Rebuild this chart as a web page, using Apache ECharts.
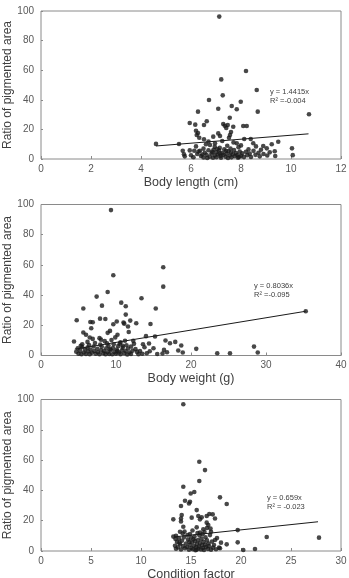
<!DOCTYPE html>
<html><head><meta charset="utf-8">
<script src="https://cdn.jsdelivr.net/npm/echarts@6/dist/echarts.min.js"></script>
<style>html,body{margin:0;padding:0;background:#fff}#c{width:349px;height:578px}</style>
</head><body><div id="c"></div>
<script>
// ---- Data ----
const yTitle = "Ratio of pigmented area";
const xTitles = ["Body length (cm)", "Body weight (g)", "Condition factor"];
const xRanges = [[0, 12, 2], [0, 40, 10], [0, 30, 5]];
const yRange = [0, 100, 20];
const eqTexts = [["y = 1.4415x", "R\u00b2 =-0.004"], ["y = 0.8036x", "R\u00b2 =-0.095"], ["y = 0.659x", "R\u00b2 = -0.023"]];

const lengthPoints = [
[7.13,96.2],[8.2,59.5],[7.21,53.8],[8.63,46.6],[7.27,43.0],[6.72,39.9],[7.99,38.7],[7.09,34.0],[7.63,35.8],[7.83,33.6],[8.67,32.0],[6.28,32.0],[10.72,30.2],[7.55,27.9],[6.63,25.5],[6.52,23.0],[5.95,24.3],[6.17,23.2],[7.29,23.6],[7.47,23.0],[7.69,21.8],[8.09,22.3],[8.23,22.3],[6.2,19.1],[7.41,21.0],[7.35,22.5],[6.23,16.2],[7.09,17.3],[7.56,16.2],[6.33,14.4],[6.52,13.3],[6.89,15.1],[7.16,15.5],[8.13,13.5],[8.39,13.5],[7.52,14.4],[6.28,17.5],[7.6,18.2],
[4.6,10.2],[5.52,10.1],[6.6,10.0],[6.76,9.5],[6.96,10.6],[7.83,10.6],[8.49,10.6],[9.23,10.0],[9.49,11.7],[10.04,7.2],[8.89,8.8],[9.03,7.2],[6.7,11.8],[7.25,12.2],[7.45,9.0],[7.7,11.2],[8.0,9.2],[6.95,8.2],[6.2,8.5],[7.15,7.5],[7.9,8.0],[8.6,8.5],[6.5,7.0],
[5.67,5.6],[5.72,3.2],[5.75,1.8],[5.95,5.8],[6.0,2.5],[6.13,5.6],[6.1,1.2],[6.25,3.4],[6.36,5.6],[6.4,2.0],[6.5,1.0],[6.55,4.2],[6.62,2.8],[6.7,5.9],[6.75,1.6],[6.82,3.8],[6.88,0.8],[6.9,6.2],[6.95,2.4],[7.0,4.6],[7.02,1.2],[7.08,3.0],[7.12,5.8],[7.18,2.0],[7.2,0.9],[7.25,4.0],[7.3,2.8],[7.33,6.5],[7.38,1.5],[7.42,3.6],[7.48,0.7],[7.5,5.2],[7.55,2.4],[7.6,4.4],[7.62,1.1],[7.68,3.2],[7.72,6.0],[7.75,1.9],[7.8,4.0],[7.85,2.7],[7.88,0.9],[7.95,5.0],[8.0,2.2],[8.05,3.8],[8.12,1.3],[8.2,4.9],[8.25,2.6],[8.35,3.6],[8.4,1.4],[8.5,5.5],[8.58,2.8],[8.7,4.2],[8.75,1.8],[8.9,3.4],[9.05,2.4],[9.15,4.5],[9.35,5.2],[9.37,2.0],[10.07,2.6],[6.85,4.8],[7.05,6.8],[7.4,5.5],[7.58,7.0],[7.15,3.8],[6.65,0.7],[7.92,1.4],[6.3,5.0],[6.45,3.0],[8.3,6.5],[8.8,6.2]
];
const weightPoints = [
[9.33,96.3],[16.3,58.4],[9.64,53.1],[16.3,45.6],[8.89,42.1],[7.42,39],[13.4,37.9],[8.13,33],[10.7,35],[11.3,32.6],[5.64,31.1],[15.3,31.1],[4.76,23.3],[6.58,22.2],[6.9,22],[7.87,24.4],[8.58,24.2],[10.1,22.5],[11.1,21.1],[11.3,27.1],[9.64,20.7],[11.9,23.1],[12.7,21.4],[14.6,20.9],[11.6,19.2],[6.7,18],[11.7,15.6],[5.64,15.2],[6.0,13.7],[8.89,15],[9.2,16.3],[10.2,13.7],[6.5,11.9],[6.9,11],[7.8,11.5],[14,12.8],[15.2,12.6],[35.3,29.3],[11.0,21.8],
[4.4,9.3],[12.3,9.7],[12.4,7.7],[16.6,9.9],[17.9,9.0],[17.2,8.1],[18.7,6.6],[14.4,7.9],[13.6,7.5],[15,4.8],[16.4,3.7],[16.8,2.2],[18.3,3.3],[18.9,2.0],[20.7,4.4],[23.5,1.5],[25.2,1.5],[28.4,5.9],[28.9,2.0],[16.2,1.3],[14.1,1.5],[13.2,3],[8.5,9.5],[9.4,10.2],[10.6,8.8],[11.2,9.8],[7.2,8.2],[5.5,7.5],[6.2,9.0],[9.9,12.0],[8.0,10.5],[10.9,6.5],[12.0,6.0],[13.8,5.5],[12.6,4.2],
[4.7,2.5],[4.9,4.8],[5.0,1.2],[5.2,3.2],[5.4,0.8],[5.5,5.5],[5.7,2.0],[5.9,3.8],[6.0,1.0],[6.2,5.2],[6.3,2.6],[6.5,0.9],[6.6,4.0],[6.8,1.8],[7.0,6.0],[7.1,3.0],[7.3,1.2],[7.5,4.5],[7.6,2.2],[7.8,0.8],[8.0,3.5],[8.1,5.8],[8.3,1.5],[8.4,3.0],[8.6,0.9],[8.7,4.8],[8.9,2.2],[9.0,6.5],[9.1,1.0],[9.3,3.6],[9.5,0.8],[9.6,5.0],[9.8,2.4],[10.0,1.2],[10.1,4.0],[10.3,6.2],[10.4,2.0],[10.6,0.9],[10.8,3.4],[10.9,5.2],[11.1,1.5],[11.3,3.0],[11.5,0.7],[11.6,4.6],[11.8,2.0],[12.0,1.0],[12.2,3.2],[9.7,7.5],[7.9,7.2],[6.4,7.0],[5.3,6.4],[11.4,6.8],[10.5,7.8],[8.8,8.0],[13.5,1.2],[13.0,0.8],[14.5,2.8],[15.5,1.0],[12.8,2.4],[9.2,4.2],[10.2,3.0]
];
const conditionPoints = [
[14.23,96.9],[15.83,58.9],[16.4,53.4],[15.83,46.2],[14.23,42.4],[15.33,38.9],[14.97,38],[14.4,33.2],[14.9,32.5],[14.8,31.4],[17.9,35.4],[18.57,31],[14,29.7],[15.57,27],[14.07,23.7],[14,21.5],[13.23,20.9],[15.07,22],[15.73,23.1],[16.07,22.2],[16.57,23.1],[16.83,24.4],[17.17,24.2],[17.4,21.5],[15.9,20.9],[16.57,18.7],[14.23,16],[15.57,15.6],[16.73,17.1],[16.23,14.3],[19.67,13.8],[13.9,12.7],[14.17,11.6],[13.5,10.1],[13.23,9.5],[14.9,11.2],[15.9,12.1],[17,12.7],[22.57,9.2],[27.8,8.8],[19.67,5.7],[17.4,7.3],[18.57,4.4],[17.8,2.2],[20.23,0.7],[21.4,1.3],[14.0,19.5],[16.6,15.2],
[13.4,3.5],[13.5,1.5],[13.6,6.0],[13.7,2.4],[13.8,8.2],[13.9,4.5],[14.0,1.0],[14.1,6.8],[14.2,3.2],[14.3,9.0],[14.4,1.8],[14.5,5.0],[14.6,2.6],[14.7,7.5],[14.8,0.9],[14.9,4.0],[15.0,8.8],[15.05,2.0],[15.1,5.8],[15.2,1.2],[15.3,3.5],[15.35,9.5],[15.4,6.5],[15.5,2.4],[15.55,0.8],[15.6,4.6],[15.7,7.2],[15.75,1.6],[15.8,3.0],[15.85,10.2],[15.9,5.2],[16.0,1.0],[16.05,8.0],[16.1,3.8],[16.2,2.0],[16.25,6.0],[16.3,0.7],[16.4,4.2],[16.45,9.0],[16.5,2.6],[16.6,7.0],[16.7,1.4],[16.75,5.0],[16.8,3.2],[16.9,10.5],[17.0,0.9],[17.1,6.2],[17.2,2.2],[17.3,4.0],[17.5,1.2],[17.6,8.5],[17.9,1.8],[18.0,5.5],[13.45,8.0],[14.35,12.8],[15.15,13.5],[15.65,11.8],[16.35,12.5],[16.95,14.8],[14.65,10.5],[13.85,5.5],[15.45,0.5],[14.85,6.0],[16.15,11.0],[15.25,7.8]
];
const lengthTrend = [[4.6, 8.8], [10.7, 17.0]];
const weightTrend = [[4.5, 4.2], [35.3, 29.3]];
const conditionTrend = [[13.3, 9.3], [27.7, 19.3]];

const pointSets = [lengthPoints, weightPoints, conditionPoints];
const trendSets = [lengthTrend, weightTrend, conditionTrend];

// ---- Layout ----
const grids = [
  {left: 41, top: 11, width: 300, height: 148},
  {left: 41, top: 204.5, width: 300, height: 151},
  {left: 41, top: 399.5, width: 300, height: 151.5}
];
const eqPos = [[270, 87], [254, 281], [267, 493]];

const font = "Liberation Sans, Arial, sans-serif";
const chart = echarts.init(document.getElementById('c'), null, {renderer: 'canvas'});

const option = {
  animation: false,
  backgroundColor: '#fff',
  grid: grids.map(g => Object.assign({show: true, borderColor: '#8a8a8a', borderWidth: 1, backgroundColor: 'transparent', containLabel: false, outerBoundsMode: 'none'}, g)),
  xAxis: xRanges.map((r, i) => ({
    type: 'value', gridIndex: i, min: r[0], max: r[1], interval: r[2],
    name: xTitles[i], nameLocation: 'middle', nameGap: 17, nameMoveOverlap: false,
    nameTextStyle: {fontFamily: font, fontSize: 12.5, color: '#404040'},
    axisLine: {show: false},
    axisTick: {show: true, inside: true, length: 3, lineStyle: {color: '#8a8a8a'}},
    axisLabel: {fontFamily: font, fontSize: 10, color: '#595959', margin: 5},
    splitLine: {show: false}
  })),
  yAxis: [0, 1, 2].map(i => ({
    type: 'value', gridIndex: i, min: yRange[0], max: yRange[1], interval: yRange[2],
    name: yTitle, nameLocation: 'middle', nameGap: 27, nameRotate: 90, nameMoveOverlap: false,
    nameTextStyle: {fontFamily: font, fontSize: 12, color: '#404040'},
    axisLine: {show: false},
    axisTick: {show: true, inside: true, length: 2, lineStyle: {color: '#8a8a8a'}},
    axisLabel: {fontFamily: font, fontSize: 10, color: '#595959', margin: 7},
    splitLine: {show: false}
  })),
  series: [],
  graphic: []
};

[0, 1, 2].forEach(i => {
  option.series.push({
    type: 'line', xAxisIndex: i, yAxisIndex: i, data: trendSets[i],
    symbol: 'none', lineStyle: {color: '#1a1a1a', width: 1}, z: 2
  });
  option.series.push({
    type: 'scatter', xAxisIndex: i, yAxisIndex: i, data: pointSets[i],
    symbolSize: 4.6, itemStyle: {color: '#1a1a1a'}, z: 3
  });
  option.graphic.push({
    type: 'text', left: eqPos[i][0], top: eqPos[i][1],
    style: {text: eqTexts[i].join('\n'), fontFamily: font, fontSize: 7.5, lineHeight: 9.5, fill: '#404040'}
  });
});

chart.setOption(option);
</script></body></html>
